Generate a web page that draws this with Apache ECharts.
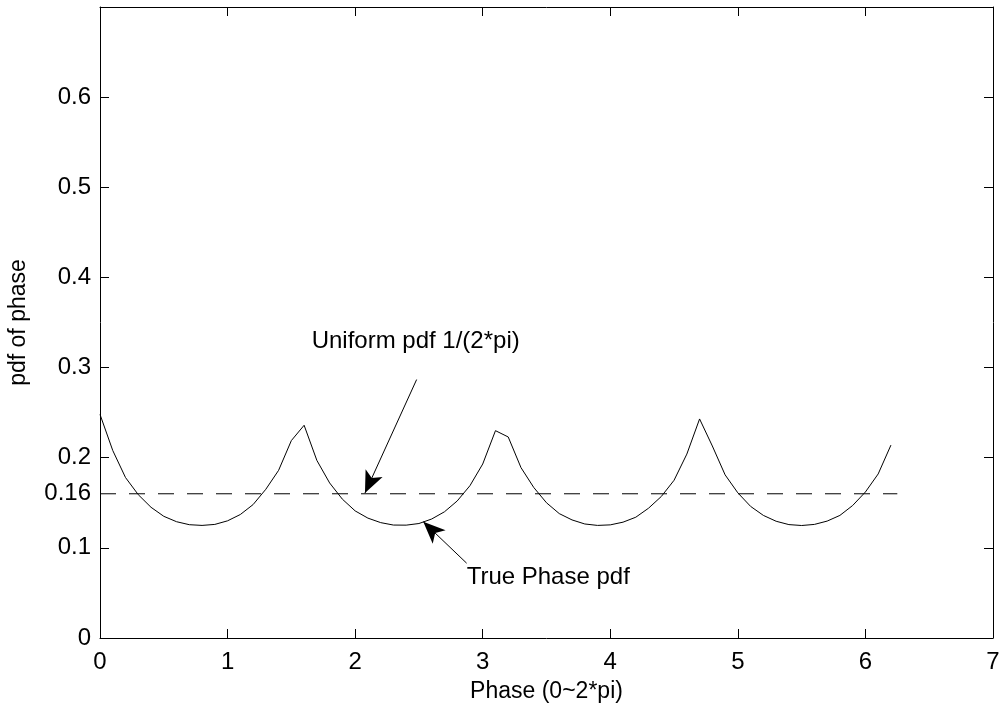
<!DOCTYPE html>
<html>
<head>
<meta charset="utf-8">
<script src="https://cdn.jsdelivr.net/npm/echarts@6/dist/echarts.min.js"></script>
<style>
html,body{margin:0;padding:0;background:#fff;}
#chart{width:1001px;height:711px;}
</style>
</head>
<body>
<div id="chart"></div>
<script>
// Phase samples (0 .. 6.2 step 0.1) and estimated pdf values
const phase = [0.0,0.1,0.2,0.3,0.4,0.5,0.6,0.7,0.8,0.9,1.0,1.1,1.2,1.3,1.4,1.5,1.6,1.7,1.8,1.9,2.0,2.1,2.2,2.3,2.4,2.5,2.6,2.7,2.8,2.9,3.0,3.1,3.2,3.3,3.4,3.5,3.6,3.7,3.8,3.9,4.0,4.1,4.2,4.3,4.4,4.5,4.6,4.7,4.8,4.9,5.0,5.1,5.2,5.3,5.4,5.5,5.6,5.7,5.8,5.9,6.0,6.1,6.2];
const truePdf = [0.248,0.208,0.178,0.159,0.145,0.135,0.129,0.1257,0.1249,0.126,0.130,0.137,0.148,0.165,0.186,0.219,0.236,0.197,0.172,0.154,0.141,0.133,0.128,0.1253,0.1252,0.127,0.132,0.140,0.152,0.169,0.193,0.230,0.223,0.189,0.167,0.150,0.138,0.131,0.1265,0.1249,0.1255,0.1285,0.134,0.144,0.157,0.175,0.204,0.243,0.213,0.181,0.161,0.146,0.136,0.1295,0.1258,0.1248,0.126,0.1297,0.136,0.147,0.162,0.182,0.214];
const uniformX = [0, 6.25];
const uniformY = [0.16, 0.16];
const yTickValues = [0, 0.1, 0.16, 0.2, 0.3, 0.4, 0.5, 0.6];
const xTickValues = [0, 1, 2, 3, 4, 5, 6, 7];
const labelUniform = 'Uniform pdf 1/(2*pi)';
const labelTrue = 'True Phase pdf';
const xName = 'Phase (0~2*pi)';
const yName = 'pdf of phase';

const FONT = "'Liberation Sans', Arial, Helvetica, sans-serif";
const chart = echarts.init(document.getElementById('chart'), null, {renderer: 'canvas'});

const axisCommon = {
  axisLine: {show: true, onZero: false, lineStyle: {color: '#000', width: 1}},
  axisTick: {show: true, inside: true, length: 9, lineStyle: {color: '#000', width: 1}},
  splitLine: {show: false}
};

const annLabel = {show: true, position: 'right', distance: 0, formatter: p => p.name,
  fontFamily: FONT, fontSize: 24, color: '#000', opacity: 1, textBorderWidth: 0};

const option = {
  backgroundColor: '#fff',
  animation: false,
  grid: {left: 100, right: 8, top: 7, bottom: 73, containLabel: false, outerBoundsMode: 'none'},
  xAxis: [
    Object.assign({}, axisCommon, {
      type: 'value', min: 0, max: 7, interval: 1, position: 'bottom',
      name: xName, nameLocation: 'middle', nameGap: 42,
      nameTextStyle: {fontFamily: FONT, fontSize: 23, color: '#000'},
      axisLabel: {show: true, margin: 12, fontFamily: FONT, fontSize: 24, color: '#000',
        customValues: xTickValues},
      axisTick: Object.assign({}, axisCommon.axisTick, {customValues: xTickValues})
    }),
    Object.assign({}, axisCommon, {
      type: 'value', min: 0, max: 7, interval: 1, position: 'top',
      axisLabel: {show: false}
    })
  ],
  yAxis: [
    Object.assign({}, axisCommon, {
      type: 'value', min: 0, max: 0.7, interval: 0.1, position: 'left',
      name: yName, nameLocation: 'middle', nameGap: 70, nameRotate: 90,
      nameTextStyle: {fontFamily: FONT, fontSize: 23, color: '#000'},
      axisLabel: {show: true, margin: 9, fontFamily: FONT, fontSize: 24, color: '#000',
        customValues: yTickValues,
        formatter: v => String(Math.round(v * 100) / 100)},
      axisTick: Object.assign({}, axisCommon.axisTick, {customValues: yTickValues.filter(v => v !== 0.16)})
    }),
    Object.assign({}, axisCommon, {
      type: 'value', min: 0, max: 0.7, interval: 0.1, position: 'right',
      axisLabel: {show: false},
      axisTick: Object.assign({}, axisCommon.axisTick, {customValues: [0,0.1,0.2,0.3,0.4,0.5,0.6]})
    })
  ],
  series: [
    {
      type: 'line', xAxisIndex: 0, yAxisIndex: 0,
      data: phase.map((x, i) => [x, truePdf[i]]),
      showSymbol: false, symbol: 'none',
      lineStyle: {color: '#000', width: 1},
      z: 3
    },
    {
      type: 'line', xAxisIndex: 0, yAxisIndex: 0,
      data: uniformX.map((x, i) => [x, uniformY[i]]),
      showSymbol: false, symbol: 'none',
      lineStyle: {color: '#000', width: 1, type: [16, 13]},
      z: 2,
      markLine: {
        silent: true,
        symbol: ['none', 'arrow'],
        symbolSize: [14, 22],
        lineStyle: {color: '#000', width: 1, type: 'solid'},
        label: {show: false},
        data: [
          [{coord: [2.482, 0.2867]}, {coord: [2.077, 0.1608]}],
          [{coord: [2.874, 0.083]}, {coord: [2.534, 0.129]}]
        ]
      },
      markPoint: {
        silent: true,
        symbol: 'circle',
        symbolSize: 0,
        itemStyle: {color: '#000'},
        label: annLabel,
        data: [
          {coord: [1.659, 0.329], name: labelUniform},
          {coord: [2.874, 0.0667], name: labelTrue}
        ]
      }
    }
  ]
};
chart.setOption(option);
</script>
</body>
</html>
